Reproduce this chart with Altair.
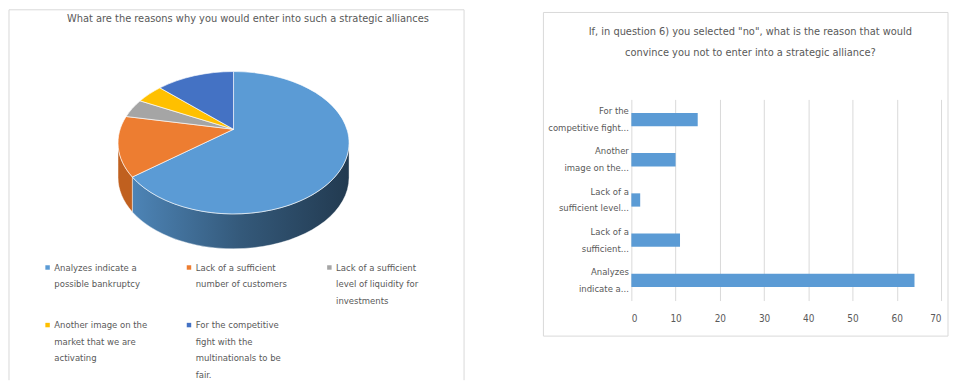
import altair as alt
import pandas as pd

FONT = "Liberation Sans Narrow, Arial Narrow, DejaVu Sans Condensed, sans-serif"
TXT = "#595959"
GRID = "#d9d9d9"

# ---------------- data ----------------
pie_title = "What are the reasons why you would enter into such a strategic alliances"
pie_categories = [
    "Analyzes indicate a possible bankruptcy",
    "Lack of a sufficient number of customers",
    "Lack of a sufficient level of liquidity for investments",
    "Another image on the market that we are activating",
    "For the competitive fight with the multinationals to be fair.",
]
pie_values = [67, 14, 4, 4, 11]
pie_colors = ["#5b9bd5", "#ed7d31", "#a5a5a5", "#ffc000", "#4472c4"]
pie_side_colors = ["#35628a", "#c0601f", "#7f7f7f", "#c99700", "#325a9e"]
pie_legend_lines = [
    ["Analyzes indicate a", "possible bankruptcy"],
    ["Lack of a sufficient", "number of customers"],
    ["Lack of a sufficient", "level of liquidity for", "investments"],
    ["Another image on the", "market that we are", "activating"],
    ["For the competitive", "fight with the", "multinationals to be", "fair."],
]

bar_title = ['If, in question 6) you selected "no", what is the reason that would',
             'convince you not to enter into a strategic alliance?']
bar_categories = [
    "For the competitive fight with the multinationals to be fair.",
    "Another image on the market that we are activating",
    "Lack of a sufficient level of liquidity for investments",
    "Lack of a sufficient number of customers",
    "Analyzes indicate a possible bankruptcy",
]
bar_values = [15, 10, 2, 11, 64]
bar_tick_lines = [
    ["For the", "competitive fight..."],
    ["Another", "image on the..."],
    ["Lack of a", "sufficient level..."],
    ["Lack of a", "sufficient..."],
    ["Analyzes", "indicate a..."],
]
x_ticks = [0, 10, 20, 30, 40, 50, 60, 70]


def label_expr(cats, lines, rows=None):
    # rows: pad each label to the same line count as the tallest label of its legend row
    parts = []
    for i, (c, ls) in enumerate(zip(cats, lines)):
        ls = list(ls)
        if rows is not None:
            r = i // rows
            tallest = max(len(x) for x in lines[r * rows:(r + 1) * rows])
            ls = ls + [" "] * (tallest - len(ls))
        arr = "[" + ",".join("'" + s + "'" for s in ls) + "]"
        parts.append(f"datum.label == '{c}' ? {arr} : ")
    return "".join(parts) + "datum.label"


one = pd.DataFrame({"k": [0]})

# ---------------- left panel: 3D-looking pie ----------------
LW, LH = 457, 282               # view; origin aligned with the bar plot's top
FT = -90                        # frame top (relative to view origin)
CX, CY = 225.5, 43.5            # ellipse centre inside the view
R = 116.0                       # half width of the ellipse (px)
RY = round(71.5 / R, 4)         # vertical squash
VY = round(-13.5 / R, 4)        # apex offset (perspective)
DEP = round(35.0 / R, 4)        # side depth
SIZE = (2 * R) ** 2

pie_df = pd.DataFrame({
    "cat": pie_categories,
    "value": pie_values,
    "side": pie_side_colors,
    "idx": list(range(len(pie_values))),
})


def num(e):
    return f"(round(({e})*10000)/10000)"


def P(a, extra=0.0):
    return num(f"sin({a})") + " + ',' + " + num(f"-{RY}*cos({a}) + {extra}")


pie_base = (
    alt.Chart(pie_df)
    .transform_joinaggregate(total="sum(value)")
    .transform_window(cum="sum(value)", sort=[alt.SortField("idx")], frame=[None, 0])
    .transform_calculate(
        a1="(datum.cum - datum.value) / datum.total * 2 * PI",
        a2="datum.cum / datum.total * 2 * PI",
    )
)

top_path = (
    f"'M0,{VY}L' + " + P("datum.a1") +
    f" + 'A1,{RY},0,' + (datum.a2 - datum.a1 > PI ? '1' : '0') + ',1,' + " + P("datum.a2") + " + 'Z'"
)
side_path = (
    "'M' + " + P("datum.b1") + f" + 'A1,{RY},0,0,1,' + " + P("datum.b2") +
    " + 'L' + " + P("datum.b2", DEP) + f" + 'A1,{RY},0,0,0,' + " + P("datum.b1", DEP) + " + 'Z'"
)

blue_grad = {
    "gradient": "linear", "x1": 0, "y1": 0, "x2": 1, "y2": 0,
    "stops": [
        {"offset": 0, "color": "#4d84b6"},
        {"offset": 0.5, "color": "#34597a"},
        {"offset": 1, "color": "#223a50"},
    ],
}

sides = (
    pie_base
    .transform_calculate(b1="max(datum.a1, PI/2)", b2="min(datum.a2, 3*PI/2)")
    .transform_filter("datum.b2 > datum.b1")
    .transform_calculate(path=side_path)
    .mark_point(filled=True, opacity=1, size=SIZE, stroke="#ffffff", strokeWidth=0.6, strokeOpacity=0.7)
    .encode(
        x=alt.value(CX), y=alt.value(CY),
        shape=alt.Shape("path:N", scale=None),
        fill=alt.condition("datum.idx == 0", alt.value(blue_grad), alt.Fill("side:N", scale=None)),
    )
)

tops = (
    pie_base
    .transform_calculate(path=top_path)
    .mark_point(filled=True, opacity=1, size=SIZE, stroke="#ffffff", strokeWidth=0.8, strokeOpacity=0.8)
    .encode(
        x=alt.value(CX), y=alt.value(CY),
        shape=alt.Shape("path:N", scale=None),
        color=alt.Color(
            "cat:N",
            scale=alt.Scale(domain=pie_categories, range=pie_colors),
            legend=alt.Legend(
                title=None, orient="none", legendX=34, legendY=167, columns=3,
                direction="horizontal",
                symbolType="M-1,-2.4H1V-0.4H-1Z", symbolSize=20, symbolStrokeWidth=0,
                labelExpr=label_expr(pie_categories, pie_legend_lines, rows=3),
                labelBaseline="alphabetic",
                labelFont=FONT, labelFontSize=9.5, labelColor=TXT, labelLimit=200,
                columnPadding=37, rowPadding=14, labelOffset=2, padding=0,
            ),
        ),
    )
)

frame_left = alt.layer(
    alt.Chart(one).mark_rule(color=GRID).encode(x=alt.value(0), x2=alt.value(LW), y=alt.value(FT), y2=alt.value(FT)),
    alt.Chart(one).mark_rule(color=GRID).encode(x=alt.value(0), x2=alt.value(0), y=alt.value(FT), y2=alt.value(LH)),
    alt.Chart(one).mark_rule(color=GRID).encode(x=alt.value(LW), x2=alt.value(LW), y=alt.value(FT), y2=alt.value(LH)),
)

left_title = alt.Chart(one).mark_text(
    text=pie_title, font=FONT, fontSize=11, color=TXT, align="center", baseline="top"
).encode(x=alt.value(240), y=alt.value(-86.5))

left = alt.layer(frame_left, left_title, sides, tops).properties(width=LW, height=LH)

# ---------------- right panel: horizontal bar chart ----------------
RW, RH = 311, 202
bar_df = pd.DataFrame({"cat": bar_categories, "value": bar_values})

bars = alt.Chart(bar_df).mark_bar(color="#5b9bd5").encode(
    x=alt.X("value:Q", scale=alt.Scale(domain=[0, 70], nice=False),
            axis=alt.Axis(values=x_ticks, title=None, domain=False, ticks=False, grid=True,
                          gridColor=GRID, labelColor=TXT, labelFont=FONT, labelFontSize=10,
                          labelPadding=13)),
    y=alt.Y("cat:N", sort=bar_categories,
            scale=alt.Scale(paddingInner=0.67, paddingOuter=0.335),
            axis=alt.Axis(title=None, domain=False, ticks=False, labelAlign="right",
                          labelBaseline="middle", labelLineHeight=17, labelPadding=3,
                          labelOffset=-8.5,
                          labelLimit=200, labelColor=TXT, labelFont=FONT, labelFontSize=9.5,
                          labelExpr=label_expr(bar_categories, bar_tick_lines))),
)

frame_right = alt.Chart(one).mark_rect(fill="transparent", stroke=GRID, strokeWidth=1).encode(
    x=alt.value(-88.3), x2=alt.value(318), y=alt.value(-87.3), y2=alt.value(237.7)
)
right_title = alt.Chart(one).mark_text(
    text=bar_title, font=FONT, fontSize=11, color=TXT, align="center", baseline="top",
    lineHeight=20.6,
).encode(x=alt.value(119.5), y=alt.value(-73.5))

right = alt.layer(frame_right, right_title, bars).properties(width=RW, height=RH)

chart = (
    alt.hconcat(left, right, spacing=77)
    .resolve_scale(color="independent")
    .properties(padding=0, background="white")
    .configure(style={"guide-label": {"lineHeight": 16.7}})
    .configure_view(stroke="transparent")
)

chart.save("out.html", embed_options={"renderer": "svg", "actions": False})
